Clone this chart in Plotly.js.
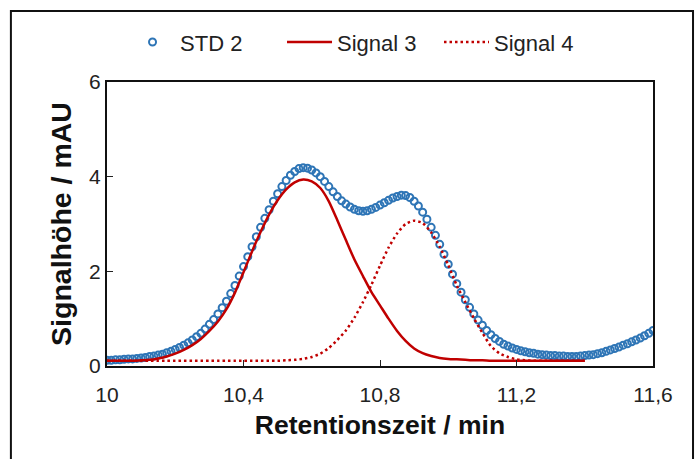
<!DOCTYPE html>
<html>
<head>
<meta charset="utf-8">
<script src="https://cdn.plot.ly/plotly-3.0.1.min.js"></script>
<style>html,body{margin:0;padding:0;background:#fff;}#chart{width:697px;height:459px;}</style>
</head>
<body>
<div id="chart"></div>
<script>
// STD 2 (measured chromatogram, open circles)
const stdX = [10.0000,10.0125,10.025,10.0375,10.05,10.0625,10.075,10.0875,10.10,10.1125,10.125,10.1375,10.15,10.1625,10.175,10.1875,10.20,10.2125,10.225,10.2375,10.25,10.2625,10.275,10.2875,10.30,10.3125,10.325,10.3375,10.35,10.3625,10.375,10.3875,10.40,10.4125,10.425,10.4375,10.45,10.4625,10.475,10.4875,10.50,10.5125,10.525,10.5375,10.55,10.5625,10.575,10.5875,10.60,10.6125,10.625,10.6375,10.65,10.6625,10.675,10.6875,10.70,10.7125,10.725,10.7375,10.75,10.7625,10.775,10.7875,10.80,10.8125,10.825,10.8375,10.85,10.8625,10.875,10.8875,10.90,10.9125,10.925,10.9375,10.95,10.9625,10.975,10.9875,11.00,11.0125,11.025,11.0375,11.05,11.0625,11.075,11.0875,11.10,11.1125,11.125,11.1375,11.15,11.1625,11.175,11.1875,11.20,11.2125,11.225,11.2375,11.25,11.2625,11.275,11.2875,11.30,11.3125,11.325,11.3375,11.35,11.3625,11.375,11.3875,11.40,11.4125,11.425,11.4375,11.45,11.4625,11.475,11.4875,11.50,11.5125,11.525,11.5375,11.55,11.5625,11.575,11.5875,11.60];
const stdY = [0.12,0.12,0.13,0.13,0.14,0.15,0.15,0.16,0.17,0.18,0.20,0.21,0.23,0.25,0.28,0.31,0.35,0.39,0.44,0.49,0.55,0.62,0.69,0.78,0.88,0.98,1.10,1.23,1.37,1.53,1.70,1.90,2.10,2.31,2.52,2.73,2.93,3.12,3.30,3.48,3.64,3.79,3.92,4.03,4.11,4.17,4.19,4.18,4.14,4.08,4.00,3.90,3.79,3.68,3.58,3.49,3.42,3.36,3.31,3.28,3.27,3.28,3.31,3.35,3.40,3.45,3.50,3.55,3.58,3.61,3.60,3.56,3.48,3.38,3.25,3.10,2.93,2.76,2.57,2.36,2.15,1.94,1.74,1.56,1.40,1.24,1.10,0.97,0.86,0.75,0.66,0.58,0.52,0.46,0.42,0.38,0.35,0.32,0.30,0.28,0.27,0.25,0.24,0.23,0.22,0.22,0.21,0.21,0.20,0.20,0.20,0.21,0.22,0.23,0.24,0.26,0.28,0.31,0.34,0.37,0.40,0.44,0.47,0.51,0.55,0.59,0.64,0.69,0.75];

// Fitted signals (red lines)
const sigX = [10.000,10.025,10.050,10.075,10.100,10.125,10.150,10.175,10.200,10.225,10.250,10.275,10.300,10.325,10.350,10.375,10.400,10.425,10.450,10.475,10.500,10.525,10.550,10.575,10.600,10.625,10.650,10.675,10.700,10.725,10.750,10.775,10.800,10.825,10.850,10.875,10.900,10.925,10.950,10.975,11.000,11.025,11.050,11.075,11.100,11.125,11.150,11.175,11.200,11.225,11.250,11.275,11.300,11.325,11.350,11.375,11.400];
const sig3Y = [0.11,0.11,0.11,0.11,0.12,0.13,0.16,0.20,0.26,0.34,0.44,0.57,0.74,0.94,1.20,1.55,1.98,2.42,2.83,3.20,3.50,3.73,3.88,3.94,3.90,3.76,3.48,3.08,2.66,2.25,1.90,1.56,1.28,1.00,0.74,0.53,0.37,0.27,0.21,0.17,0.15,0.14,0.13,0.12,0.12,0.11,0.11,0.11,0.11,0.11,0.11,0.11,0.11,0.11,0.11,0.11,0.11];
const sig4Y = [0.11,0.11,0.11,0.11,0.11,0.11,0.11,0.11,0.11,0.11,0.11,0.11,0.11,0.11,0.11,0.11,0.11,0.11,0.11,0.11,0.11,0.12,0.13,0.15,0.19,0.26,0.38,0.55,0.75,1.02,1.35,1.72,2.12,2.50,2.80,3.00,3.07,3.02,2.82,2.52,2.13,1.70,1.35,1.01,0.70,0.42,0.27,0.19,0.14,0.12,0.11,0.11,0.11,0.11,0.11,0.11,0.11];

const seriesNames = ['STD 2', 'Signal 3', 'Signal 4'];
const xTickVals = [10, 10.4, 10.8, 11.2, 11.6];
const xTickText = ['10', '10,4', '10,8', '11,2', '11,6'];
const yTickVals = [0, 2, 4, 6];
const yTickText = ['0', '2', '4', '6'];

const FONT = 'Liberation Sans, Arial, sans-serif';
const RED = '#C00000';
const BLUE = '#2E75B6';

const traces = [
  {x: stdX, y: stdY, name: seriesNames[0], type: 'scatter', mode: 'markers',
   marker: {symbol: 'circle-open', size: 7, color: BLUE, line: {width: 2, color: BLUE}}},
  {x: sigX, y: sig3Y, name: seriesNames[1], type: 'scatter', mode: 'lines',
   line: {color: RED, width: 2.5, shape: 'spline', smoothing: 0.6}},
  {x: sigX, y: sig4Y, name: seriesNames[2], type: 'scatter', mode: 'lines',
   line: {color: RED, width: 2.5, dash: '2.5px,3px', shape: 'spline', smoothing: 0.6}}
];

const layout = {
  width: 697, height: 459,
  margin: {l: 107, r: 44, t: 82, b: 93},
  paper_bgcolor: '#fff', plot_bgcolor: '#fff',
  separators: ',.',
  font: {family: FONT, color: '#222', size: 21},
  showlegend: true,
  legend: {orientation: 'h', x: 0.033, xanchor: 'left', y: 1.14, yanchor: 'middle',
           itemwidth: 45, tracegroupgap: 0, entrywidth: 97, entrywidthmode: 'pixels',
           font: {family: FONT, size: 22, color: '#222'}, bgcolor: 'rgba(0,0,0,0)'},
  xaxis: {range: [10, 11.6], tickvals: xTickVals, ticktext: xTickText,
          ticks: 'inside', ticklen: 6, tickwidth: 1, tickcolor: '#222',
          showline: true, linecolor: '#111', linewidth: 2, mirror: true,
          showgrid: false, zeroline: false, ticklabelstandoff: 9,
          tickfont: {family: FONT, size: 21, color: '#222'},
          title: {text: 'Retentionszeit / min', standoff: 10,
                  font: {family: FONT, size: 26.5, color: '#111', weight: 'bold'}}},
  yaxis: {range: [0, 6], tickvals: yTickVals, ticktext: yTickText,
          ticks: 'inside', ticklen: 6, tickwidth: 1, tickcolor: '#222',
          showline: true, linecolor: '#111', linewidth: 2, mirror: true,
          showgrid: false, zeroline: false, ticklabelstandoff: 0,
          tickfont: {family: FONT, size: 21, color: '#222'},
          title: {text: 'Signalhöhe / mAU', standoff: 9,
                  font: {family: FONT, size: 28.5, color: '#111', weight: 'bold'}}},
  shapes: [{type: 'rect', xref: 'paper', yref: 'paper',
            x0: -0.176, x1: 1.0733, y0: -0.6, y1: 1.25,
            line: {color: '#111', width: 2}, fillcolor: 'rgba(0,0,0,0)', layer: 'above'}]
};

Plotly.newPlot('chart', traces, layout, {displayModeBar: false, staticPlot: true});
</script>
</body>
</html>
